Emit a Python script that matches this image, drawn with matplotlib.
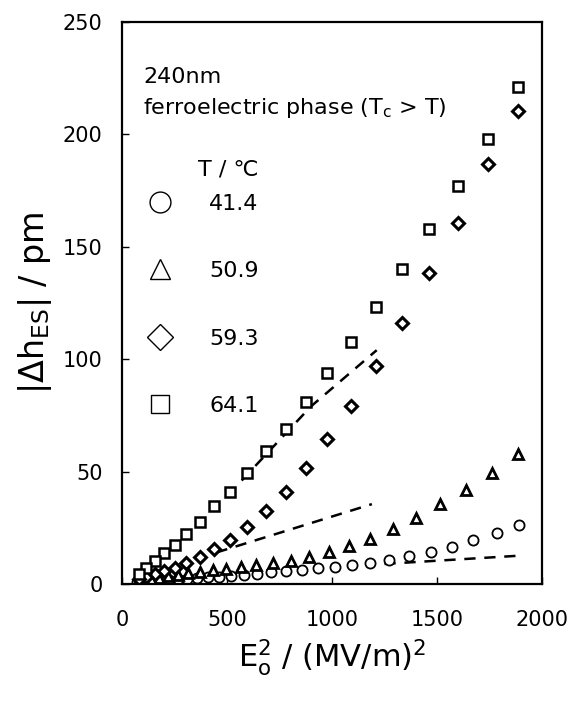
import matplotlib
matplotlib.use("Agg")
import matplotlib.pyplot as plt
from matplotlib.lines import Line2D

plt.rcParams['font.family'] = ['DejaVu Sans']
plt.rcParams['mathtext.fontset'] = 'dejavusans'

# E0^2 (MV/m)^2 and |dh_ES| (pm)
sq_x = [1886, 1743, 1600, 1462, 1333, 1210, 1090, 976, 876, 781, 686,
        595, 514, 438, 371, 305, 252, 200, 157, 114, 81]
sq_y = [221, 198, 177, 158, 140, 123.4, 107.5, 94, 81, 69, 59,
        49.5, 41, 34.5, 27.5, 22.2, 17.3, 13.9, 10.2, 7.2, 4.5]
dia_x = sq_x
dia_y = [210.4, 187, 160.7, 138.5, 116.2, 97, 79, 64.4, 51.5, 41, 32.3,
         25.5, 19.7, 15.4, 12, 9.5, 7, 5.7, 4.6, 3.3, 2.1]
tri_x = [1886, 1762, 1638, 1514, 1400, 1290, 1181, 1081, 986, 890, 805,
         719, 638, 567, 495, 433, 371, 314, 267, 219, 176, 138, 105, 76]
tri_y = [57.8, 49.5, 41.8, 35.4, 29.2, 24.4, 20.1, 16.8, 14.2, 11.9, 10.4,
         9.5, 8.5, 7.6, 6.8, 6.1, 5.4, 4.7, 4.1, 3.4, 2.8, 2.2, 1.6, 1.1]
cir_x = [1890, 1786, 1671, 1571, 1471, 1367, 1271, 1181, 1095, 1014, 933,
         857, 781, 710, 643, 581, 519, 462, 410, 357, 310, 267, 224, 186,
         152, 124, 95, 71]
cir_y = [26, 22.5, 19.6, 16.6, 14.4, 12.5, 10.7, 9.4, 8.4, 7.4, 7.0,
         6.2, 5.9, 5.5, 4.6, 4.0, 3.6, 3.2, 2.9, 2.6, 2.3, 2.0, 1.8, 1.5,
         1.3, 1.1, 0.9, 0.7]

# dashed fit lines
fit1_x = [570, 900, 1213]
fit1_y = [46, 79, 104]
fit2_x = [450, 1190]
fit2_y = [14, 35.5]
fit3_x = [1250, 1880]
fit3_y = [8.9, 12.5]

temps = ["41.4", "50.9", "59.3", "64.1"]

fig = plt.figure(figsize=(5.74, 7.01), dpi=100)
ax = fig.add_axes([0.2125, 0.167, 0.7317, 0.8016])

for fx, fy in [(fit1_x, fit1_y), (fit2_x, fit2_y), (fit3_x, fit3_y)]:
    ax.plot(fx, fy, color='black', lw=1.8, dashes=(4.5, 3.5))

ax.plot(cir_x, cir_y, 'o', ms=7.3, mfc='white', mec='black', mew=1.3, ls='none')
ax.plot(tri_x, tri_y, '^', ms=7.5, mfc='white', mec='black', mew=2.0, ls='none')
ax.plot(dia_x, dia_y, 'D', ms=6.3, mfc='white', mec='black', mew=2.2, ls='none')
ax.plot(sq_x, sq_y, 's', ms=6.5, mfc='white', mec='black', mew=1.8, ls='none')

ax.set_xlim(0, 2000)
ax.set_ylim(0, 250)
ax.set_xticks([0, 500, 1000, 1500, 2000])
ax.set_yticks([0, 50, 100, 150, 200, 250])
ax.tick_params(direction='in', length=5, width=1, labelsize=15)
ax.tick_params(axis='y', pad=14)
ax.tick_params(axis='x', pad=19)
for s in ax.spines.values():
    s.set_linewidth(1.6)

ax.set_xlabel(r"$\mathregular{E_o^2}$ / (MV/m)$^\mathregular{2}$", fontsize=22, labelpad=5)
ax.set_ylabel(r"|$\mathregular{\Delta h_{ES}}$| / pm", fontsize=24, labelpad=6)

ax.text(0.05, 0.902, "240nm", transform=ax.transAxes, fontsize=16, va='center')
ax.text(0.05, 0.847, r"ferroelectric phase (T$_\mathregular{c}$ > T)",
        transform=ax.transAxes, fontsize=16, va='center')
ax.text(0.181, 0.737, "T / ℃", transform=ax.transAxes, fontsize=16, va='center')

handles = [
    Line2D([], [], marker='o', ms=15, mfc='white', mec='black', mew=1.0, ls='none'),
    Line2D([], [], marker='^', ms=15, mfc='white', mec='black', mew=1.0, ls='none'),
    Line2D([], [], marker='D', ms=13, mfc='white', mec='black', mew=1.0, ls='none'),
    Line2D([], [], marker='s', ms=13.5, mfc='white', mec='black', mew=1.0, ls='none'),
]
leg = ax.legend(handles, temps, loc='upper left',
                bbox_to_anchor=(0.017, 0.71), frameon=False, fontsize=16,
                labelspacing=2.13, handletextpad=1.2, borderaxespad=0)

fig.savefig("out.png", dpi=100)
